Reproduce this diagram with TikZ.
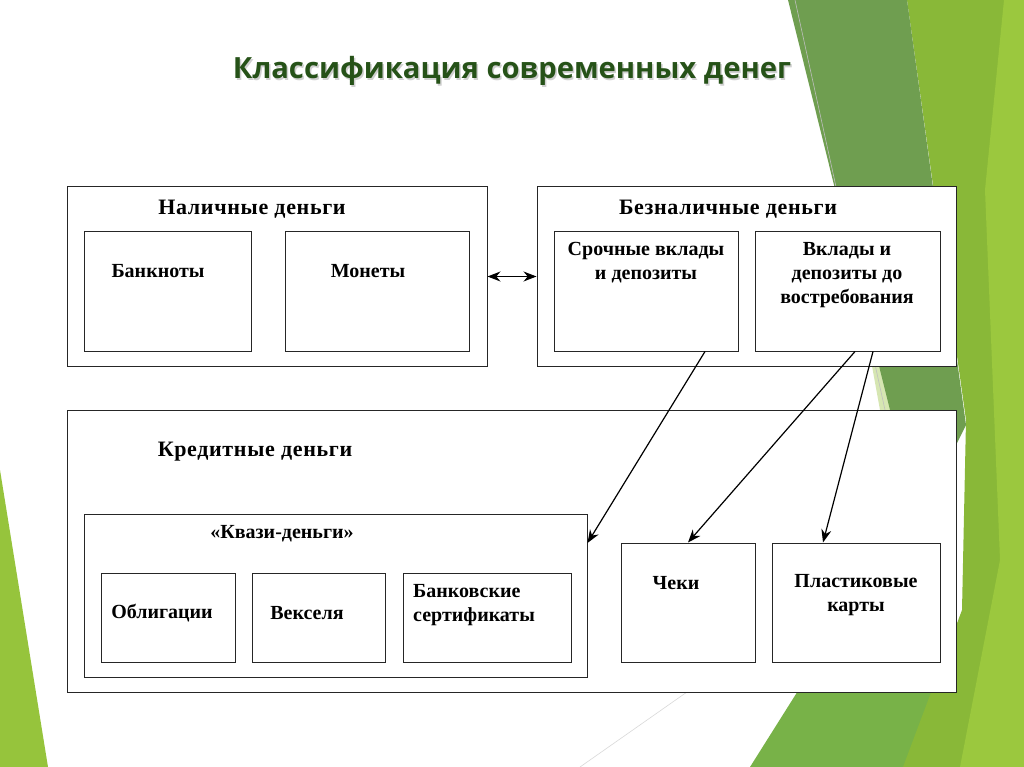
\documentclass[tikz,border=0pt]{standalone}
\usepackage{fontspec}
\setmainfont{Liberation Serif}
\newfontfamily\titlefont{Open Sans}
\newfontfamily\hdrfont[LetterSpace=3]{Liberation Serif}
\usetikzlibrary{arrows.meta}
\definecolor{gdark}{RGB}{111,158,80}
\definecolor{glime}{RGB}{137,184,56}
\definecolor{gbright}{RGB}{155,200,62}
\definecolor{gmid}{RGB}{120,178,72}
\definecolor{gpale}{RGB}{214,230,178}
\definecolor{gleft}{RGB}{150,196,60}
\definecolor{titlegreen}{RGB}{38,82,24}
\tikzset{
  box/.style={draw=black!85, line width=1pt, fill=white, inner sep=0pt},
  lbl/.style={font=\fontsize{20}{24}\selectfont\bfseries, align=center, inner sep=0pt},
  hdr/.style={font=\hdrfont\fontsize{22}{26}\selectfont\bfseries, align=center, inner sep=0pt},
  arr/.style={-{Stealth[length=13pt,width=10pt]}, line width=1.2pt},
  dbl/.style={{Stealth[length=13pt,width=10pt]}-{Stealth[length=13pt,width=10pt]}, line width=1.2pt}
}
\begin{document}
\begin{tikzpicture}[x=1pt,y=-1pt]
\useasboundingbox (0,0) rectangle (1024,767);
\fill[white] (0,0) rectangle (1024,767);
% background shapes
\fill[gleft] (0,470) -- (0,767) -- (48,767) -- cycle;
\fill[gmid] (750,767) -- (830,640) -- (1024,640) -- (1024,767) -- cycle;
\fill[glime] (907,0) -- (1024,0) -- (1024,767) -- (903,767) -- (962,610) -- (966,420) -- cycle;
\fill[gbright] (1004,0) -- (1024,0) -- (1024,767) -- (960,767) -- (1000,560) -- (985,190) -- cycle;
\fill[gpale] (872,366) -- (893,366) -- (903,410) -- (880,410) -- cycle;
\fill[gdark] (788,0) -- (907,0) -- (966,425) -- (956,445) -- (900,445) -- (890,410) -- cycle;
\draw[black!25, line width=0.6pt] (795,0) -- (885,410);
\draw[black!15, line width=0.6pt] (580,767) -- (687,692);
% title
\node[font=\titlefont\fontsize{29.2}{34}\selectfont\bfseries, text=black!30, opacity=0.6] at (513.5,72.5) {Классификация современных денег};
\node[font=\titlefont\fontsize{29.2}{34}\selectfont\bfseries, text=titlegreen] (title) at (512,71) {Классификация современных денег};
% outer boxes
\node[box, minimum width=420pt, minimum height=179pt] (nal) at (277,276.5) {};
\node[box, minimum width=419pt, minimum height=179pt] (beznal) at (746.5,276.5) {};
\node[box, minimum width=889pt, minimum height=282pt] (kred) at (511.5,551) {};
% inner boxes
\node[box, minimum width=167pt, minimum height=119pt] (bank) at (167.5,291.5) {};
\node[box, minimum width=184pt, minimum height=119pt] (monet) at (377,291.5) {};
\node[box, minimum width=184pt, minimum height=119pt] (srok) at (646,291.5) {};
\node[box, minimum width=185pt, minimum height=119pt] (vklad) at (847.5,291.5) {};
\node[box, minimum width=503pt, minimum height=163pt] (kvazi) at (335.5,595.5) {};
\node[box, minimum width=134pt, minimum height=89pt] (oblig) at (168,617.5) {};
\node[box, minimum width=133pt, minimum height=89pt] (veks) at (318.5,617.5) {};
\node[box, minimum width=168pt, minimum height=89pt] (bsert) at (487,617.5) {};
\node[box, minimum width=134pt, minimum height=119pt] (cheki) at (688,602.5) {};
\node[box, minimum width=168pt, minimum height=119pt] (plast) at (856,602.5) {};
% labels
\node[hdr] (tnal) at (252,209) {Наличные деньги};
\node[lbl] (tbank) at (158,271) {Банкноты};
\node[lbl] (tmonet) at (368,271) {Монеты};
\node[hdr] (tbeznal) at (728,209) {Безналичные деньги};
\node[lbl] (tsrok) at (646,263) {Срочные вклады\\и депозиты};
\node[lbl] (tvklad) at (847,275) {Вклады и\\депозиты до\\востребования};
\node[hdr] (tkred) at (255,452) {Кредитные деньги};
\node[lbl] (tkvazi) at (282,534) {«Квази-деньги»};
\node[lbl] (toblig) at (162,613) {Облигации};
\node[lbl] (tveks) at (307,613) {Векселя};
\node[lbl, align=left, anchor=west] (tbsert) at (413,605) {Банковские\\сертификаты};
\node[lbl] (tcheki) at (676,583) {Чеки};
\node[lbl] (tplast) at (856,595) {Пластиковые\\карты};
% connectors
\draw[dbl] (nal.east) -- (beznal.west);
\draw[arr] ([xshift=59pt]srok.south) -- ([yshift=52.5pt]kvazi.east);
\draw[arr] ([xshift=7.5pt]vklad.south) -- (cheki.north);
\draw[arr] ([xshift=25.5pt]vklad.south) -- ([xshift=-33pt]plast.north);
\end{tikzpicture}
\end{document}
